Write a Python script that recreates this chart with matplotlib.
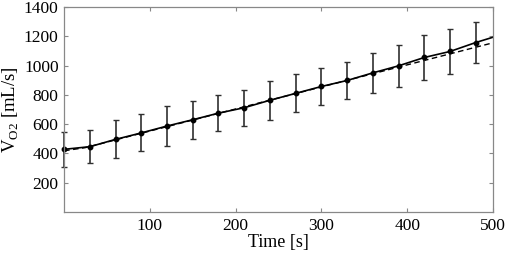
import numpy as np
import matplotlib
matplotlib.use("Agg")
import matplotlib.pyplot as plt

# Mean VO2 at each sampling time, with spread (half-length of error bar)
times = [0, 30, 60, 90, 120, 150, 180, 210, 240, 270, 300, 330, 360, 390, 420, 450, 480]
vo2_mean = [428, 446, 496, 540, 587, 630, 675, 712, 763, 810, 857, 898, 950, 998, 1055, 1096, 1157]
vo2_err = [120, 114, 129, 126, 136, 130, 122, 123, 132, 130, 124, 124, 138, 143, 152, 154, 139]

# Solid line continues to the end of the protocol
line_end_t = 500
line_end_v = 1193

# Dashed model curve
model_t = [0, 25, 500]
model_v = [418, 440, 1155]

xticks = [100, 200, 300, 400, 500]
yticks = [200, 400, 600, 800, 1000, 1200, 1400]

plt.rcParams["font.family"] = "Liberation Serif"
plt.rcParams["mathtext.fontset"] = "custom"
plt.rcParams["mathtext.rm"] = "Liberation Serif"
plt.rcParams["font.size"] = 12.5

fig = plt.figure(figsize=(5.05, 2.57), dpi=100)
ax = fig.add_axes([0.127, 0.175, 0.849, 0.798])

ax.plot(model_t, model_v, "--", color="black", lw=1.0, dashes=(4, 2.5))
ax.plot(times + [line_end_t], vo2_mean + [line_end_v], "-", color="black", lw=1.2)
eb = ax.errorbar(times, vo2_mean, yerr=vo2_err, fmt="o", color="black",
                 ecolor="#303030", elinewidth=1.2, capsize=2, capthick=1.0, ms=3.2)
for art in eb.lines[0:1] + tuple(eb.lines[1]) + tuple(eb.lines[2]):
    art.set_clip_on(False)

ax.set_xlim(0, 500)
ax.set_ylim(0, 1400)
ax.set_xticks(xticks)
ax.set_yticks(yticks)
ax.tick_params(direction="in", top=True, right=True, length=3, color="#888888", pad=4)
for s in ax.spines.values():
    s.set_color("#888888")
    s.set_linewidth(0.9)

ax.set_xlabel("Time [s]", labelpad=0, fontsize=13)
ax.set_ylabel(r"V$_{\rm O2}$ [mL/s]", labelpad=2, fontsize=13.5)

fig.savefig("out.png", dpi=100)
